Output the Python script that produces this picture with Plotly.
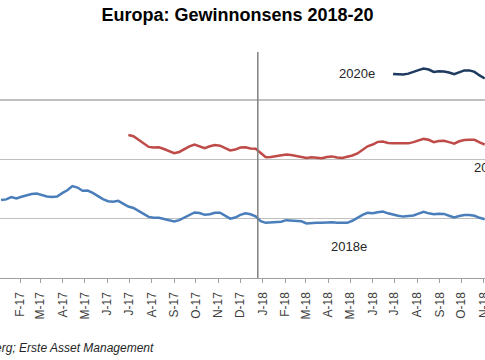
import pandas as pd
import plotly.graph_objects as go

# ---- data (weekly consensus EPS estimates) ----
eps_2018 = [26.63, 26.65, 26.73, 26.68, 26.74, 26.79, 26.83, 26.85, 26.79, 26.75,
            26.73, 26.75, 26.86, 26.96, 27.10, 27.05, 26.94, 26.95, 26.87, 26.76,
            26.66, 26.59, 26.57, 26.60, 26.51, 26.41, 26.36, 26.27, 26.16, 26.06,
            26.03, 26.03, 25.99, 25.94, 25.91, 25.95, 26.04, 26.12, 26.21, 26.19,
            26.13, 26.15, 26.20, 26.20, 26.11, 26.00, 26.04, 26.13, 26.18, 26.15,
            26.08, 25.92, 25.86, 25.87, 25.88, 25.90, 25.95, 25.94, 25.93, 25.91,
            25.84, 25.86, 25.86, 25.86, 25.88, 25.88, 25.86, 25.85, 25.86, 25.93,
            26.03, 26.13, 26.20, 26.18, 26.22, 26.24, 26.18, 26.13, 26.10, 26.07,
            26.08, 26.11, 26.17, 26.23, 26.18, 26.15, 26.17, 26.16, 26.10, 26.04,
            26.09, 26.12, 26.12, 26.10, 26.03, 25.98]
eps_2019 = [28.82, 28.78, 28.66, 28.53, 28.42, 28.40, 28.41, 28.35, 28.29, 28.21,
            28.25, 28.35, 28.44, 28.50, 28.44, 28.38, 28.44, 28.48, 28.46, 28.39,
            28.30, 28.33, 28.40, 28.41, 28.37, 28.36, 28.23, 28.07, 28.08, 28.11,
            28.13, 28.16, 28.15, 28.11, 28.08, 28.05, 28.07, 28.05, 28.04, 28.08,
            28.10, 28.06, 28.05, 28.09, 28.13, 28.20, 28.33, 28.44, 28.50, 28.59,
            28.60, 28.55, 28.54, 28.54, 28.54, 28.54, 28.58, 28.64, 28.69, 28.66,
            28.58, 28.62, 28.63, 28.58, 28.53, 28.61, 28.65, 28.66, 28.66, 28.57,
            28.50]
eps_2020 = [30.88, 30.88, 30.86, 30.89, 30.96, 31.01, 31.06, 31.03, 30.95, 30.97,
            30.96, 30.93, 30.87, 30.93, 31.00, 31.00, 30.95, 30.83, 30.73]

start_2018 = "2017-01-06"
start_2019 = "2017-06-30"
start_2020 = "2018-06-29"

tick_dates = pd.date_range("2017-01-01", "2018-11-01", freq="MS")
tick_labels = ["J-17", "F-17", "M-17", "A-17", "M-17", "J-17", "J-17", "A-17",
               "S-17", "O-17", "N-17", "D-17", "J-18", "F-18", "M-18", "A-18",
               "M-18", "J-18", "J-18", "A-18", "S-18", "O-18", "N-18"]

series_names = ["2018e", "2019e", "2020e"]
colors = ["#4A7EBB", "#BE4B48", "#1F3A60"]

dates_2018 = pd.date_range(start_2018, periods=len(eps_2018), freq="7D")
dates_2019 = pd.date_range(start_2019, periods=len(eps_2019), freq="7D")
dates_2020 = pd.date_range(start_2020, periods=len(eps_2020), freq="7D")

FONT = "Arial, 'Liberation Sans', sans-serif"

fig = go.Figure()
for name, d, v, c in zip(series_names, [dates_2018, dates_2019, dates_2020],
                         [eps_2018, eps_2019, eps_2020], colors):
    fig.add_trace(go.Scatter(x=d, y=v, mode="lines", name=name, hoverinfo="skip",
                             line=dict(color=c, width=2.5), showlegend=False))

# vertical separator at year end
fig.add_shape(type="line", xref="x", yref="paper", x0="2017-12-25", x1="2017-12-25",
              y0=0, y1=1, line=dict(color="#808080", width=1.5))

# series labels
lab_font = dict(family=FONT, size=13, color="#262626")
fig.add_annotation(x="2018-05-11", y=30.88, text="2020e", showarrow=False, font=lab_font,
                   xanchor="center", yanchor="middle")
fig.add_annotation(x="2018-04-29", y=25.05, text="2018e", showarrow=False, font=lab_font,
                   xanchor="center", yanchor="middle")
fig.add_annotation(x="2018-10-15", y=27.71, text="2019e", showarrow=False, font=lab_font,
                   xanchor="left", yanchor="middle")

# source
fig.add_annotation(xref="paper", yref="paper", x=156 / 485, y=-0.31,
                   text="Quelle: Bloomberg; Erste Asset Management", showarrow=False,
                   xanchor="right", yanchor="middle",
                   font=dict(family=FONT, size=12, color="#262626", style="italic"))

fig.update_layout(
    width=485, height=360,
    margin=dict(l=0, r=0, t=52, b=82, autoexpand=False),
    paper_bgcolor="white", plot_bgcolor="white",
    hovermode=False,
    title=dict(text="<b>Europa: Gewinnonsens 2018-20</b>", x=237.5 / 485, xanchor="center",
               y=1 - 15 / 360, yanchor="middle",
               font=dict(family=FONT, size=18, color="#000000")),
    xaxis=dict(range=["2017-01-04 12:00", "2018-11-02 10:00"],
               tickmode="array", tickvals=tick_dates, ticktext=tick_labels,
               tickangle=-90, ticks="outside", ticklen=4, tickcolor="#A0A0A0",
               ticklabelstandoff=4, ticklabeloverflow="allow", automargin=False,
               showline=True, linecolor="#A0A0A0", linewidth=1.3,
               showgrid=False, zeroline=False,
               tickfont=dict(family=FONT, size=12, color="#404040")),
    yaxis=dict(range=[24, 31.62], dtick=2, tick0=24, showticklabels=False,
               showgrid=True, gridcolor="#BFBFBF", gridwidth=1.3, zeroline=False,
               showline=False, automargin=False),
)

fig.write_html("out.html",
               config={"displayModeBar": False, "staticPlot": True},
               post_script="document.body.style.margin='0px';"
                           "document.body.style.overflow='hidden';")
